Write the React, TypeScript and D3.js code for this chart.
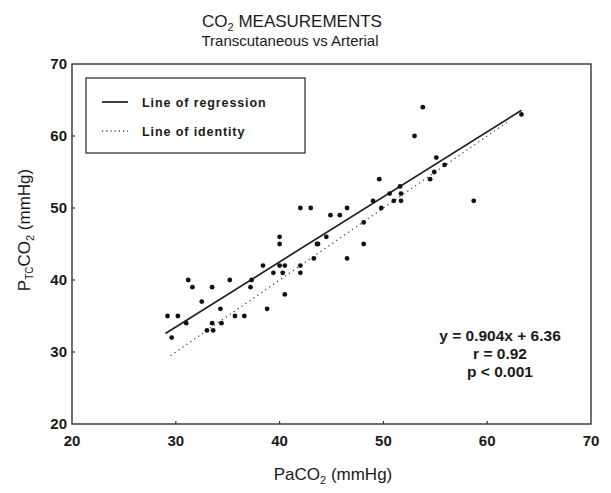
import React from 'react';
import * as d3 from 'd3';

// arterial PaCO2 (x) and transcutaneous PtcCO2 (y), mmHg
const paco2 = [
  29.2, 30.2, 29.6, 31.0, 31.2, 31.6, 32.5, 33.5, 33.0, 33.6, 33.5, 34.3, 34.4, 35.2, 35.7,
  36.6, 37.2, 37.3, 38.4, 38.8, 39.4, 40.0, 40.0, 40.0, 40.3, 40.5, 40.5, 42.0, 43.0, 42.0,
  42.0, 43.3, 43.6, 43.7, 44.5, 44.9, 45.8, 46.5, 46.5, 53.8, 53.0, 63.3, 55.1, 55.9, 54.9,
  54.5, 49.6, 50.6, 51.6, 51.7, 51.0, 51.7, 49.0, 49.8, 48.1, 48.1, 58.7,
];
const ptcco2 = [
  35, 35, 32, 34, 40, 39, 37, 39, 33, 33, 34, 36, 34, 40, 35,
  35, 39, 40, 42, 36, 41, 46, 45, 42, 41, 42, 38, 50, 50, 42,
  41, 43, 45, 45, 46, 49, 49, 50, 43, 64, 60, 63, 57, 56, 55,
  54, 54, 52, 53, 52, 51, 51, 51, 50, 48, 45, 51,
];

const xTicks = [20, 30, 40, 50, 60, 70];
const yTicks = [20, 30, 40, 50, 60, 70];

const slope = 0.904;
const intercept = 6.36;
const regressionRange = [29, 63.3];
const identityRange = [29.5, 62];

const legendItems = ['Line of regression', 'Line of identity'];
const statLines = ['y = 0.904x + 6.36', 'r = 0.92', 'p < 0.001'];

const W = 611;
const H = 493;
const margin = { top: 64, right: 20, bottom: 69, left: 72 };
const ink = '#1a1a1a';
const font = '"Liberation Sans", Arial, Helvetica, sans-serif';

export default function App() {
  const x = d3.scaleLinear().domain([20, 70]).range([margin.left, W - margin.right]);
  const y = d3.scaleLinear().domain([20, 70]).range([H - margin.bottom, margin.top]);

  const line = d3.line<[number, number]>()
    .x(d => x(d[0]))
    .y(d => y(d[1]));

  const regression = line(regressionRange.map(v => [v, slope * v + intercept] as [number, number]));
  const identity = line(identityRange.map(v => [v, v] as [number, number]));

  const points = paco2.map((v, i) => ({ x: v, y: ptcco2[i] }));

  const x0 = x.range()[0], x1 = x.range()[1];
  const y0 = y.range()[0], y1 = y.range()[1];

  // legend box in pixel space, tucked in the top-left of the frame
  const lg = { left: x0 + 14, top: y1 + 14, width: 219, height: 75 };

  return (
    <div style={{ position: 'absolute', left: 0, top: 0 }}>
      <svg width={W} height={H} style={{ display: 'block', background: '#fff' }} fontFamily={font}>
        {/* titles */}
        <text x={292} y={27} textAnchor="middle" fontSize={17} fill={ink}>
          CO<tspan fontSize={11} dy={4}>2</tspan><tspan dy={-4}> MEASUREMENTS</tspan>
        </text>
        <text x={290} y={46} textAnchor="middle" fontSize={15} fill={ink}>
          Transcutaneous vs Arterial
        </text>

        {/* frame */}
        <rect x={x0} y={y1} width={x1 - x0} height={y0 - y1} fill="none" stroke="#333" strokeWidth={1.4} />

        {/* inward ticks */}
        {yTicks.slice(1, -1).map(t => (
          <line key={'yt' + t} x1={x0} x2={x0 + 3} y1={y(t)} y2={y(t)} stroke="#333" strokeWidth={1.2} />
        ))}
        {xTicks.slice(1, -1).map(t => (
          <line key={'xt' + t} x1={x(t)} x2={x(t)} y1={y0} y2={y0 - 3} stroke="#333" strokeWidth={1.2} />
        ))}

        {/* tick labels */}
        {yTicks.map(t => (
          <text key={'yl' + t} x={x0 - 5} y={y(t)} dy="0.36em" textAnchor="end" fontSize={15} fontWeight="bold" fill={ink}>
            {t}
          </text>
        ))}
        {xTicks.map(t => (
          <text key={'xl' + t} x={x(t)} y={y0 + 22} textAnchor="middle" fontSize={15} fontWeight="bold" fill={ink}>
            {t}
          </text>
        ))}

        {/* axis titles */}
        <text x={333} y={480} textAnchor="middle" fontSize={17} fill={ink}>
          PaCO<tspan fontSize={11} dy={4}>2</tspan><tspan dy={-4}> (mmHg)</tspan>
        </text>
        <text transform="translate(30,230) rotate(-90)" textAnchor="middle" fontSize={17} fill={ink}>
          P<tspan fontSize={10} dy={3}>TC</tspan><tspan dy={-3}>CO</tspan><tspan fontSize={11} dy={4}>2</tspan><tspan dy={-4}> (mmHg)</tspan>
        </text>

        {/* lines */}
        <path d={identity ?? ''} fill="none" stroke="#444" strokeWidth={1.3} strokeDasharray="1.2,3.6" />
        <path d={regression ?? ''} fill="none" stroke="#222" strokeWidth={1.7} />

        {/* points */}
        {points.map((p, i) => (
          <circle key={i} cx={x(p.x)} cy={y(p.y)} r={2.4} fill="#111" />
        ))}

        {/* legend */}
        <rect x={lg.left} y={lg.top} width={lg.width} height={lg.height} fill="#fff" stroke="#333" strokeWidth={1.3} />
        {legendItems.map((label, i) => {
          const cy = lg.top + 24 + i * 29;
          return (
            <g key={label}>
              <line
                x1={lg.left + 16} x2={lg.left + 42} y1={cy} y2={cy}
                stroke={i === 0 ? '#222' : '#444'}
                strokeWidth={i === 0 ? 1.7 : 1.3}
                strokeDasharray={i === 0 ? undefined : '1.2,3'}
              />
              <text x={lg.left + 56} y={cy + 5} fontSize={12.5} fontWeight="bold" letterSpacing={0.9} fill={ink}>
                {label}
              </text>
            </g>
          );
        })}

        {/* regression statistics */}
        {statLines.map((s, i) => (
          <text key={s} x={500} y={341 + i * 18} textAnchor="middle" fontSize={15.5} fontWeight="bold" fill={ink}>
            {s}
          </text>
        ))}
      </svg>
    </div>
  );
}
